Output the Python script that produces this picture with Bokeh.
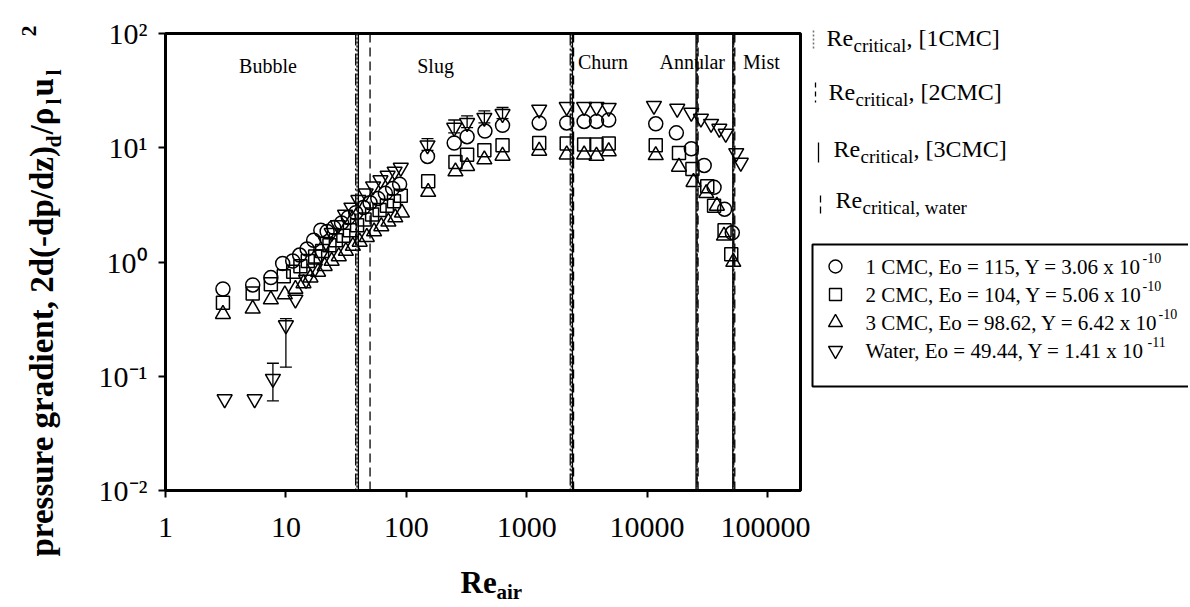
import math
from bokeh.plotting import figure
from bokeh.layouts import row, column
from bokeh.models import (FixedTicker, Span, Whisker, ColumnDataSource, Range1d, TeeHead)
from bokeh.core.properties import value
from bokeh.embed import file_html
from bokeh.resources import INLINE

SERIF = "Liberation Serif"

# ---------------- data ----------------
# 1 CMC (circles)
re_1 = [3.0, 5.3, 7.5, 9.4, 11.4, 13, 15, 17, 19.5, 22, 25, 29, 33, 38, 44, 50, 58, 67, 77, 88,
        150, 250, 320, 450, 630, 1270, 2150, 3000, 3800, 4800,
        11800, 17500, 23300, 29800, 36000, 44000, 51000]
pg_1 = [0.58, 0.63, 0.73, 0.97, 1.02, 1.15, 1.3, 1.55, 1.9, 1.85, 2.0, 2.2, 2.45, 2.7, 3.0, 3.3, 3.6, 4.0, 4.4, 4.8,
        8.4, 11.0, 12.5, 14.0, 15.7, 16.5, 16.5, 17.0, 17.0, 17.5,
        16.2, 13.5, 9.8, 7.0, 4.5, 2.9, 1.8]
# 2 CMC (squares)
re_2 = [3.0, 5.3, 7.5, 9.6, 11.5, 13.2, 15.2, 17.5, 20, 23, 26, 30, 34, 39, 45, 52, 60, 69, 79, 90,
        152, 256, 320, 445, 630, 1270, 2150, 3000, 3800, 4800,
        11800, 18400, 23800, 31600, 36000, 44000, 50000]
pg_2 = [0.44, 0.53, 0.64, 0.75, 0.82, 0.92, 1.02, 1.12, 1.25, 1.4, 1.55, 1.7, 1.9, 2.1, 2.35, 2.6, 2.85, 3.1, 3.4, 3.8,
        5.1, 7.5, 8.7, 9.5, 10.5, 11.0, 10.9, 10.7, 10.7, 10.9,
        10.5, 9.0, 6.5, 4.6, 3.1, 1.9, 1.17]
# 3 CMC (triangles)
re_3 = [3.0, 5.3, 7.5, 9.8, 12, 14, 16, 18.5, 21, 24, 27.5, 31.5, 36, 41, 47, 54, 62, 71, 81, 92,
        152, 256, 320, 445, 630, 1270, 2150, 3000, 3800, 4800,
        11800, 18400, 24300, 31000, 38000, 43500, 52000]
pg_3 = [0.35, 0.39, 0.47, 0.52, 0.58, 0.65, 0.73, 0.82, 0.92, 1.02, 1.12, 1.25, 1.38, 1.5, 1.65, 1.85, 2.05, 2.25, 2.45, 2.7,
        4.1, 6.2, 6.9, 7.9, 8.5, 9.4, 8.7, 8.7, 8.5, 9.3,
        8.6, 6.8, 5.0, 4.0, 3.1, 1.7, 1.0]
# Water (inverted triangles)
re_w = [3.1, 5.5, 7.8, 10, 12, 14.7, 17.4, 19.6, 21.5, 24, 27, 31, 35, 40, 46, 53, 61, 70, 80, 90,
        150, 250, 320, 445, 630, 1270, 2150, 3000, 3800, 4800,
        11400, 17800, 23300, 28000, 34000, 39800, 45000, 55000, 60000]
pg_w = [0.063, 0.063, 0.095, 0.28, 0.47, 0.7, 0.88, 1.17, 1.5, 1.8, 2.1, 2.6, 3.0, 3.5, 4.0, 4.6, 5.2, 5.7, 6.2, 6.7,
        10.5, 15.0, 16.5, 18.3, 19.8, 21.6, 22.8, 22.8, 22.8, 22.4,
        23.3, 22.0, 20.3, 18.0, 16.2, 14.7, 13.3, 9.0, 7.4]
# water error bars
eb_re = [7.8, 10, 150, 250, 320, 445, 630]
eb_lo = [0.061, 0.12, 9.5, 13.5, 15.0, 16.5, 18.0]
eb_hi = [0.13, 0.32, 12.0, 17.5, 19.0, 21.0, 22.5]

# critical Reynolds numbers (regime boundaries)
crit_1cmc = [39, 2350, 26000, 52000]
crit_2cmc = [50, 2450, 26500, 53500]
crit_3cmc = [40, 2400, 25500, 51500]
crit_water = [38, 2300, 26000, 52500]

regimes = ["Bubble", "Slug", "Churn", "Annular", "Mist"]
regime_x = [7.1, 175, 4300, 23700, 89000]
regime_y = [52, 52, 56, 56, 56]

x_ticks = [1, 10, 100, 1000, 10000, 100000]
x_tick_labels = ["1", "10", "100", "1000", "10000", "100000"]
y_ticks = [0.01, 0.1, 1, 10, 100]
y_tick_labels = ["10\u207b\u00b2", "10\u207b\u00b9", "10\u2070", "10\u00b9", "10\u00b2"]

legend_names = [
    "1 CMC, Eo = 115, Y = 3.06 x 10",
    "2 CMC, Eo = 104, Y = 5.06 x 10",
    "3 CMC, Eo = 98.62, Y = 6.42 x 10",
    "Water, Eo = 49.44, Y = 1.41 x 10",
]
legend_exps = ["-10", "-10", "-10", "-11"]
crit_names = ["[1CMC]", "[2CMC]", "[3CMC]", "water"]

# ---------------- layout geometry (page pixels) ----------------
TOTAL_W, TOTAL_H = 1188, 605
TOP_H = 560
LEFT_W = 90
MAIN_W = 720
RIGHT_W = TOTAL_W - LEFT_W - MAIN_W
FRAME_L, FRAME_T, FRAME_W, FRAME_H = 165, 33, 635, 457
MID = 0.33  # offset of the em-box middle above the baseline, in font sizes


def strip(w, h):
    f = figure(width=w, height=h, x_range=Range1d(0, w), y_range=Range1d(0, h),
               output_backend="svg", toolbar_location=None,
               x_axis_location=None, y_axis_location=None, min_border=0)
    f.grid.visible = False
    f.outline_line_color = None
    f.background_fill_color = "white"
    f.border_fill_color = "white"
    return f


# ---------------- main figure ----------------
p = figure(width=MAIN_W, height=TOP_H, x_axis_type="log", y_axis_type="log",
           x_range=Range1d(1, 188000), y_range=Range1d(0.01, 100),
           output_backend="svg", toolbar_location=None,
           min_border_left=FRAME_L - LEFT_W, min_border_top=FRAME_T,
           min_border_right=MAIN_W - (FRAME_L - LEFT_W) - FRAME_W,
           min_border_bottom=TOP_H - FRAME_T - FRAME_H)
p.xgrid.grid_line_color = None
p.ygrid.grid_line_color = None
p.outline_line_color = "black"
p.outline_line_width = 3
p.background_fill_color = "white"
p.border_fill_color = "white"

for ax in (p.xaxis[0], p.yaxis[0]):
    ax.axis_line_width = 3
    ax.axis_line_color = "black"
    ax.major_tick_line_width = 2
    ax.major_tick_line_color = "black"
    ax.major_tick_in = 0
    ax.major_tick_out = 7
    ax.minor_tick_line_color = None
    ax.major_label_text_font = SERIF
    ax.major_label_text_font_size = "30px"
    ax.major_label_text_color = "black"

p.xaxis[0].ticker = FixedTicker(ticks=x_ticks)
p.xaxis[0].major_label_overrides = {t: l for t, l in zip(x_ticks, x_tick_labels)}
p.xaxis[0].major_label_standoff = 20
p.yaxis[0].ticker = FixedTicker(ticks=y_ticks)
p.yaxis[0].major_label_overrides = {t: l for t, l in zip(y_ticks, y_tick_labels)}
p.yaxis[0].major_label_standoff = 11
p.yaxis[0].major_label_orientation = "horizontal"

styles = [
    (crit_1cmc, "2 2", 1.6, "#333333"),
    (crit_2cmc, "9 5", 1.3, "black"),
    (crit_3cmc, "solid", 1.3, "black"),
    (crit_water, "12 3 2 3", 1.3, "black"),
]
for vals, dash, lw, col in styles:
    for v in vals:
        p.add_layout(Span(location=v, dimension="height", line_color=col,
                          line_dash=dash, line_width=lw))

p.text(regime_x, regime_y, text=regimes, text_font=value(SERIF), text_font_size="20px",
       text_align="center", text_baseline="middle", text_color="black")

src_eb = ColumnDataSource(dict(x=eb_re, lo=eb_lo, hi=eb_hi))
p.add_layout(Whisker(base="x", lower="lo", upper="hi", source=src_eb, dimension="height",
                     line_width=1.3, line_color="black",
                     upper_head=TeeHead(size=12, line_width=1.3),
                     lower_head=TeeHead(size=12, line_width=1.3)))

mk = dict(fill_color=None, line_color="black", line_width=1.5)
p.scatter(re_1, pg_1, marker="circle", size=14, **mk)
p.scatter(re_2, pg_2, marker="square", size=13, **mk)
p.scatter(re_3, pg_3, marker="triangle", size=15, **mk)
p.scatter(re_w, pg_w, marker="inverted_triangle", size=15, **mk)


def txt(fig, x, y, s, size, bold=False, angle=0.0):
    """Place text whose alphabetic baseline starts at (x, y) in strip pixels."""
    if angle:
        xm, ym = x - MID * size, y
    else:
        xm, ym = x, y + MID * size
    fig.text([xm], [ym], text=[s], angle=angle, text_font=value(SERIF),
             text_font_style="bold" if bold else "normal", text_font_size=f"{size}px",
             text_baseline="middle", text_align="left", text_color="black")


# ---------------- left strip: rotated y-axis label ----------------
left = strip(LEFT_W, TOP_H)

ylab = [
    ("pressure gradient, 2d(-dp/dz)", 556, 52, 33),
    ("d", 147, 60, 22),
    ("/\u03c1", 134, 52, 33),
    ("l", 104, 60, 22),
    ("u", 96, 52, 33),
    ("l", 75, 60, 22),
    ("2", 36, 36, 22),
]
for s, py, px, fs in ylab:
    txt(left, px, TOP_H - py, s, fs, bold=True, angle=math.pi / 2)

# ---------------- bottom strip: x-axis label ----------------
XH = TOTAL_H - TOP_H
xlab = strip(TOTAL_W, XH)
txt(xlab, 460, TOTAL_H - 592, "Re", 31, bold=True)
txt(xlab, 496, TOTAL_H - 598, "air", 21, bold=True)

# ---------------- right strip: legends ----------------
right = strip(RIGHT_W, TOP_H)
X0 = LEFT_W + MAIN_W


def rx(px):
    return px - X0


def ry(py):
    return TOP_H - py


crit_rows = [
    (826, 45, "2 2", 1.6, "#777777", 813, 30, 50),
    (828, 99, "5 4", 1.3, "black", 815, 82, 102),
    (833, 156, "solid", 1.3, "black", 818, 142, 162),
    (835, 207, "7 4", 1.3, "black", 820, 195, 217),
]
for (x0, base, dash, lw, col, lx, l0, l1), name in zip(crit_rows, crit_names):
    right.segment([rx(lx)], [ry(l0)], [rx(lx)], [ry(l1)], line_dash=dash, line_width=lw, line_color=col)
    txt(right, rx(x0), ry(base), "Re", 24)
    if name == "water":
        txt(right, rx(x0 + 27), ry(base + 6), "critical, water", 19)
    else:
        txt(right, rx(x0 + 27), ry(base + 6), "critical", 19)
        txt(right, rx(x0 + 80), ry(base), ", " + name, 24)

# boxed marker legend
box_l, box_t, box_b, box_r = 812, 244, 386, 1240
right.quad(left=[rx(box_l)], right=[rx(box_r)], top=[ry(box_t)], bottom=[ry(box_b)],
           fill_color=None, line_color="black", line_width=2)
row_c = [266, 294, 322, 350]
markers = ["circle", "square", "triangle", "inverted_triangle"]
msize = [13, 12, 14, 14]
exp_x = [1142, 1142, 1158, 1147]
for c, m, s, name, ex, e in zip(row_c, markers, msize, legend_names, exp_x, legend_exps):
    right.scatter([rx(835)], [ry(c)], marker=m, size=s, fill_color=None, line_color="black", line_width=1.4)
    txt(right, rx(865), ry(c + 7), name, 21)
    txt(right, rx(ex), ry(c - 4), e, 14)

# each figure wrapped in its own column so that Bokeh does not align their frames
top_row = row(column(left, spacing=0), column(p, spacing=0), column(right, spacing=0), spacing=0)
layout = column(top_row, xlab, spacing=0)
open("out.html", "w").write(file_html(layout, INLINE))
